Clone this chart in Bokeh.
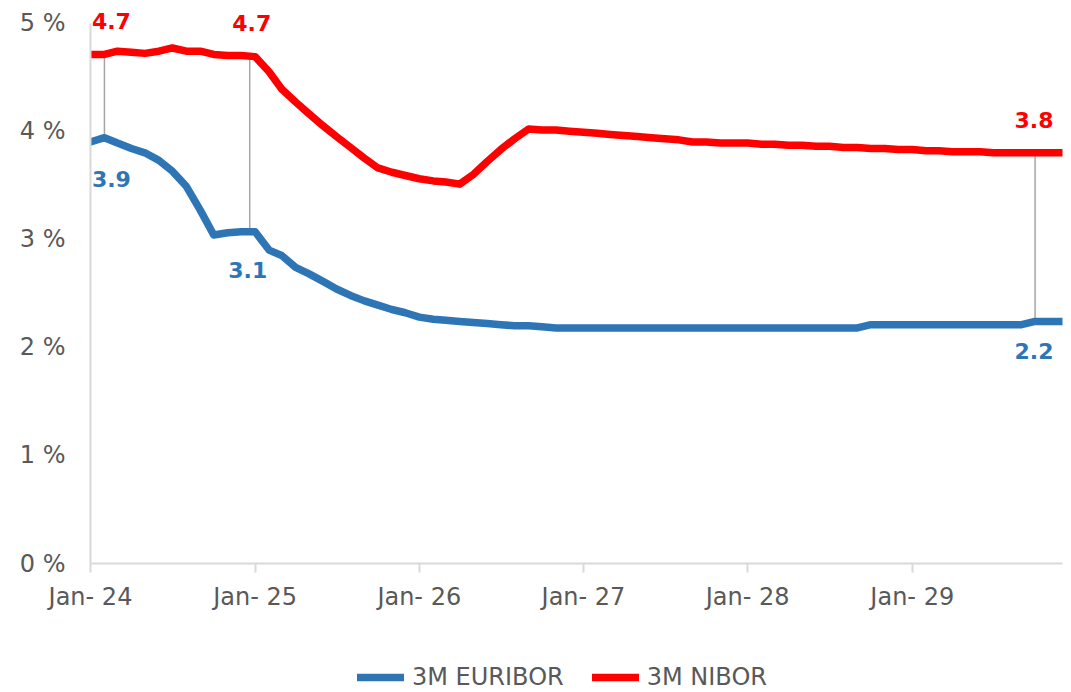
from datetime import datetime
import pandas as pd
from bokeh.plotting import figure
from bokeh.layouts import column
from bokeh.models import (ColumnDataSource, Range1d, FixedTicker, DatetimeTickFormatter,
                          PrintfTickFormatter, Legend, LegendItem, LabelSet)
from bokeh.core.properties import value
from bokeh.embed import file_html
from bokeh.resources import INLINE

# ---------------- data ----------------
series_names = ["3M EURIBOR", "3M NIBOR"]
months = pd.date_range("2024-01-01", "2029-12-01", freq="MS")

euribor = [3.90, 3.94, 3.89, 3.84, 3.80, 3.73, 3.63, 3.49, 3.27, 3.04, 3.06, 3.07,
           3.07, 2.90, 2.85, 2.74, 2.68, 2.61, 2.54, 2.48, 2.43, 2.39, 2.35, 2.32,
           2.28, 2.26, 2.25, 2.24, 2.23, 2.22, 2.21, 2.20, 2.20, 2.19, 2.18, 2.18,
           2.18, 2.18, 2.18, 2.18, 2.18, 2.18, 2.18, 2.18, 2.18, 2.18, 2.18, 2.18,
           2.18, 2.18, 2.18, 2.18, 2.18, 2.18, 2.18, 2.18, 2.18, 2.21, 2.21, 2.21,
           2.21, 2.21, 2.21, 2.21, 2.21, 2.21, 2.21, 2.21, 2.21, 2.24, 2.24, 2.24]

nibor = [4.71, 4.71, 4.74, 4.73, 4.72, 4.74, 4.77, 4.74, 4.74, 4.71, 4.70, 4.70,
         4.69, 4.55, 4.39, 4.27, 4.16, 4.05, 3.95, 3.85, 3.75, 3.66, 3.62, 3.59,
         3.56, 3.54, 3.53, 3.51, 3.60, 3.72, 3.83, 3.93, 4.02, 4.01, 4.01, 4.00,
         3.99, 3.98, 3.97, 3.96, 3.95, 3.94, 3.93, 3.92, 3.90, 3.90, 3.89, 3.89,
         3.89, 3.88, 3.88, 3.87, 3.87, 3.86, 3.86, 3.85, 3.85, 3.84, 3.84, 3.83,
         3.83, 3.82, 3.82, 3.81, 3.81, 3.81, 3.80, 3.80, 3.80, 3.80, 3.80, 3.80]

# annotated points (date, NIBOR value, EURIBOR value)
ann_dates = ["2024-02-01", "2024-12-20", "2029-10-01"]
ann_nibor = [4.71, 4.70, 3.80]
ann_euribor = [3.94, 3.08, 2.24]

tick_dates = ["2024-01-01", "2025-01-01", "2026-01-01", "2027-01-01", "2028-01-01", "2029-01-01"]
y_ticks = [0, 1, 2, 3, 4, 5]

# ---------------- styling ----------------
BLUE = "#2E75B6"
RED = "#FF0000"
GREY_TXT = "#595959"
AXIS = "#D9D9D9"
FONT = "DejaVu Sans"

src = ColumnDataSource(dict(date=months, euribor=euribor, nibor=nibor))

ann_dt = pd.to_datetime(ann_dates)
ann_src = ColumnDataSource(dict(
    date=ann_dt, nibor=ann_nibor, euribor=ann_euribor,
    nibor_txt=[f"{v:.1f}" for v in ann_nibor],
    euribor_txt=[f"{v:.1f}" for v in ann_euribor],
    nib_dx=[7, 2, -1], eur_dx=[7, -2, -1],
    eur_dy=[-41, -39, -30],
))

# frame extends slightly above 5 % so the top data labels are not clipped
p = figure(width=1071, height=650, output_backend="svg", toolbar_location=None,
           x_axis_type="datetime",
           x_range=Range1d(datetime(2024, 1, 1), datetime(2029, 12, 1)),
           y_range=Range1d(0, 5.2))
p.min_border_left = 90
p.min_border_right = 9
p.min_border_top = 1
p.min_border_bottom = 87
p.outline_line_color = None
p.background_fill_color = "white"
p.border_fill_color = "white"
p.xgrid.visible = False
p.ygrid.visible = False

# connectors
p.segment(x0="date", y0="nibor", x1="date", y1="euribor", source=ann_src,
          line_color="#A6A6A6", line_width=1.5)

r_eur = p.line(x="date", y="euribor", source=src, line_color=BLUE, line_width=7.5,
               line_join="round", line_cap="round")
r_nib = p.line(x="date", y="nibor", source=src, line_color=RED, line_width=7.5,
               line_join="round", line_cap="round")

# data labels
p.add_layout(LabelSet(x="date", y="nibor", text="nibor_txt", source=ann_src,
                      x_offset="nib_dx", y_offset=33, text_align="center",
                      text_baseline="middle", text_color=RED,
                      text_font=value(FONT), text_font_style="bold",
                      text_font_size="22px"))
p.add_layout(LabelSet(x="date", y="euribor", text="euribor_txt", source=ann_src,
                      x_offset="eur_dx", y_offset="eur_dy", text_align="center",
                      text_baseline="middle", text_color=BLUE,
                      text_font=value(FONT), text_font_style="bold",
                      text_font_size="22px"))

# axes
xa = p.xaxis[0]
xa.ticker = FixedTicker(ticks=[pd.Timestamp(d).value / 1e6 for d in tick_dates])
fmt = "%b- %y"
xa.formatter = DatetimeTickFormatter(
    microseconds=fmt, milliseconds=fmt, seconds=fmt, minsec=fmt, minutes=fmt,
    hourmin=fmt, hours=fmt, days=fmt, months=fmt, years=fmt)
xa.axis_line_color = AXIS
xa.axis_line_width = 2
xa.major_tick_line_color = AXIS
xa.major_tick_line_width = 2
xa.major_tick_out = 9
xa.major_tick_in = 0
xa.minor_tick_line_color = None
xa.major_label_standoff = 10
xa.major_label_text_font = FONT
xa.major_label_text_font_size = "24px"
xa.major_label_text_color = GREY_TXT

ya = p.yaxis[0]
ya.ticker = FixedTicker(ticks=y_ticks)
ya.formatter = PrintfTickFormatter(format="%d %%")
ya.bounds = (0, 5)
ya.axis_line_color = AXIS
ya.axis_line_width = 2
ya.major_tick_line_color = None
ya.minor_tick_line_color = None
ya.major_tick_out = 0
ya.major_tick_in = 0
ya.major_label_standoff = 25
ya.major_label_text_font = FONT
ya.major_label_text_font_size = "24px"
ya.major_label_text_color = GREY_TXT

# ---------------- legend strip ----------------
# same series drawn here only to serve as legend glyphs; the strip's ranges keep them off-frame
lg = figure(width=1071, height=42, output_backend="svg", toolbar_location=None,
            x_range=Range1d(0, 1), y_range=Range1d(0, 1),
            x_axis_location=None, y_axis_location=None)
lg.min_border = 0
lg.min_border_top = 0
lg.min_border_bottom = 0
lg.outline_line_color = None
lg.xgrid.visible = False
lg.ygrid.visible = False
l_eur = lg.line(x="date", y="euribor", source=src, line_color=BLUE, line_width=7.5,
                line_cap="round")
l_nib = lg.line(x="date", y="nibor", source=src, line_color=RED, line_width=7.5,
                line_cap="round")

# (x, y) = left edge / bottom edge of the legend box, relative to the frame
legend = Legend(items=[LegendItem(label=series_names[0], renderers=[l_eur]),
                       LegendItem(label=series_names[1], renderers=[l_nib])],
                location=(267, 1), orientation="horizontal",
                glyph_width=47, glyph_height=20, label_standoff=8, spacing=28,
                padding=0, margin=0, border_line_color=None,
                background_fill_alpha=0,
                label_text_font=FONT, label_text_font_size="24px",
                label_text_color=GREY_TXT)
lg.add_layout(legend, "center")

layout = column(p, lg, spacing=0)
open("out.html", "w").write(file_html(layout, INLINE))
